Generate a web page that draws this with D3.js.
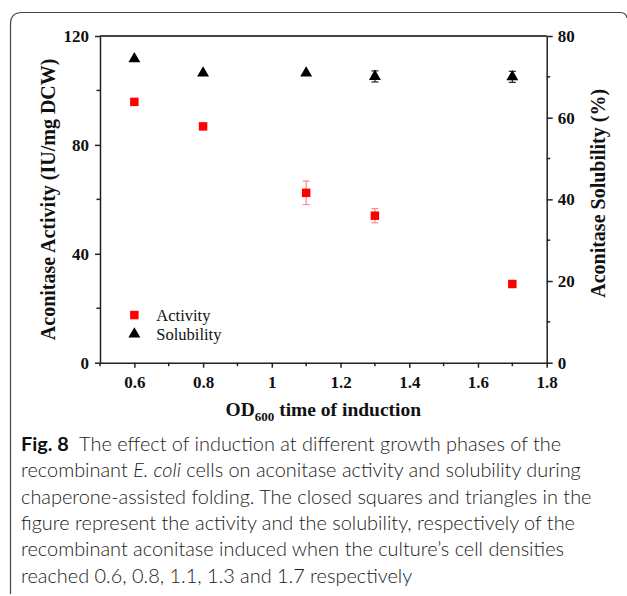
<!DOCTYPE html>
<html>
<head>
<meta charset="utf-8">
<script src="https://cdn.jsdelivr.net/npm/d3@7"></script>
<style>
  body { margin: 0; background: #fff; }
  svg { display: block; }
  .axis path, .axis line { stroke: #222; stroke-width: 1.5px; }
  .title { font-family: "Liberation Serif", "Times New Roman", serif; font-weight: bold; font-size: 20px; fill: #111; }
  .legend text { font-family: "Liberation Serif", "Times New Roman", serif; font-size: 16.5px; fill: #111; }
  .caption { font-family: Lato, "Noto Sans", sans-serif; font-weight: 300; font-size: 19px; fill: #1a1a1a; }
</style>
</head>
<body>
<svg id="chart"></svg>
<script>
// data
const od = [0.6, 0.8, 1.1, 1.3, 1.7];
const activity = [95.8, 86.8, 62.4, 54.0, 28.9];
const activityErr = [0, 0, 4.3, 2.6, 0];
const solubility = [74.4, 70.9, 70.9, 70.1, 70.0];
const solubilityErr = [0, 0, 0, 1.35, 1.35];
const xTicks = [0.6, 0.8, 1, 1.2, 1.4, 1.6, 1.8];
const leftTicks = [0, 40, 80, 120];
const rightTicks = [0, 20, 40, 60, 80];
const captionLines = [
  [{t: 'Fig. 8', b: true}, {t: '  The effect of induction at different growth phases of the'}],
  [{t: 'recombinant '}, {t: 'E. coli', i: true}, {t: ' cells on aconitase activity and solubility during'}],
  [{t: 'chaperone-assisted folding. The closed squares and triangles in the'}],
  [{t: 'figure represent the activity and the solubility, respectively of the'}],
  [{t: 'recombinant aconitase induced when the culture\u2019s cell densities'}],
  [{t: 'reached 0.6, 0.8, 1.1, 1.3 and 1.7 respectively'}]
];

const W = 627, H = 596;
const m = {left: 100, top: 36, right: 80.3, bottom: 233.3};
const pw = W - m.left - m.right, ph = H - m.top - m.bottom;

const svg = d3.select('#chart').attr('width', W).attr('height', H);

// figure frame (open at the right, as in the page crop)
svg.append('path')
  .attr('d', `M10.5,594 L10.5,24 Q10.5,12.5 22,12.5 L620,12.5 Q626,12.5 627,18`)
  .attr('fill', 'none').attr('stroke', '#444').attr('stroke-width', 1.2);

const g = svg.append('g').attr('transform', `translate(${m.left},${m.top})`);

const x = d3.scaleLinear().domain([0.5, 1.8]).range([0, pw]);
const yL = d3.scaleLinear().domain([0, 120]).range([ph, 0]);
const yR = d3.scaleLinear().domain([0, 80]).range([ph, 0]);

const styleTicks = sel => sel.selectAll('.tick text')
  .attr('font-family', '"Liberation Serif", "Times New Roman", serif')
  .attr('font-weight', 'bold').attr('font-size', 17).attr('fill', '#111');

// minor ticks
const minor = (sel, ticks, fn) => sel.selectAll(null).data(ticks).enter().append('line')
  .attr('stroke', '#222').attr('stroke-width', 1.5).each(function(d) { fn(d3.select(this), d); });

// top frame line
g.append('line').attr('x1', 0).attr('x2', pw).attr('y1', 0).attr('y2', 0).attr('stroke', '#444').attr('stroke-width', 1.8);

const xAxis = g.append('g').attr('class', 'axis').attr('transform', `translate(0,${ph})`)
  .call(d3.axisBottom(x).tickValues(xTicks).tickSize(5).tickSizeOuter(0).tickFormat(d3.format('')));
styleTicks(xAxis);
xAxis.selectAll('.tick text').attr('y', 10).attr('dy', '0.9em');
minor(xAxis, [0.5, 0.7, 0.9, 1.1, 1.3, 1.5, 1.7], (s, d) => s.attr('x1', x(d)).attr('x2', x(d)).attr('y1', 0).attr('y2', 3.5));

const lAxis = g.append('g').attr('class', 'axis')
  .call(d3.axisLeft(yL).tickValues(leftTicks).tickSize(5).tickSizeOuter(0));
styleTicks(lAxis);
lAxis.selectAll('.tick text').attr('x', -11);
minor(lAxis, [20, 60, 100], (s, d) => s.attr('x1', 0).attr('x2', -3.5).attr('y1', yL(d)).attr('y2', yL(d)));

const rAxis = g.append('g').attr('class', 'axis').attr('transform', `translate(${pw},0)`)
  .call(d3.axisRight(yR).tickValues(rightTicks).tickSize(6).tickSizeOuter(0));
styleTicks(rAxis);
rAxis.selectAll('.tick text').attr('x', 11);
minor(rAxis, [10, 30, 50, 70], (s, d) => s.attr('x1', 0).attr('x2', 3.5).attr('y1', yR(d)).attr('y2', yR(d)));

// error bars
const errBars = (vals, errs, y, color) => {
  const eg = g.append('g').attr('stroke', color).attr('stroke-width', 1.2).attr('fill', 'none');
  od.forEach((o, i) => {
    if (!errs[i]) return;
    const cx = x(o), y1 = y(vals[i] + errs[i]), y2 = y(vals[i] - errs[i]);
    eg.append('line').attr('x1', cx).attr('x2', cx).attr('y1', y1).attr('y2', y2);
    eg.append('line').attr('x1', cx - 3.5).attr('x2', cx + 3.5).attr('y1', y1).attr('y2', y1);
    eg.append('line').attr('x1', cx - 3.5).attr('x2', cx + 3.5).attr('y1', y2).attr('y2', y2);
  });
};
errBars(activity, activityErr, yL, '#ff8a8a');
errBars(solubility, solubilityErr, yR, '#222');

const sq = d3.symbol().type(d3.symbolSquare).size(72);
const tri = d3.symbol().type(d3.symbolTriangle).size(62);

g.selectAll('.act').data(od).enter().append('path')
  .attr('d', sq).attr('fill', '#ff0000')
  .attr('transform', (d, i) => `translate(${x(d)},${yL(activity[i])})`);
g.selectAll('.sol').data(od).enter().append('path')
  .attr('d', tri).attr('fill', '#000')
  .attr('transform', (d, i) => `translate(${x(d)},${yR(solubility[i])})`);

// legend
const lg = g.append('g').attr('class', 'legend').attr('transform', `translate(${x(0.6)},${yL(17.5)})`);
lg.append('path').attr('d', sq).attr('fill', '#ff0000');
lg.append('text').attr('x', 22).attr('y', 5.5).text('Activity');
lg.append('path').attr('d', tri).attr('fill', '#000').attr('transform', 'translate(0,19)');
lg.append('text').attr('x', 22).attr('y', 24.5).text('Solubility');

// axis titles
svg.append('text').attr('class', 'title').attr('text-anchor', 'middle')
  .attr('transform', `translate(55,${m.top + ph / 2}) rotate(-90)`)
  .text('Aconitase Activity (IU/mg DCW)');
svg.append('text').attr('class', 'title').attr('text-anchor', 'middle')
  .attr('transform', `translate(605,${m.top + ph / 2 - 6}) rotate(-90)`)
  .text('Aconitase Solubility (%)');
const xt = svg.append('text').attr('class', 'title').attr('text-anchor', 'middle')
  .style('font-size', '19.5px')
  .attr('x', m.left + pw / 2).attr('y', 416);
xt.append('tspan').text('OD');
xt.append('tspan').style('font-size', '13px').attr('dy', 5).text('600');
xt.append('tspan').attr('dy', -5).text(' time of induction');

// caption
const cap = svg.append('g');
captionLines.forEach((line, i) => {
  const t = cap.append('text').attr('class', 'caption').attr('x', 21).attr('y', 451 + i * 26.3)
    .attr('xml:space', 'preserve');
  line.forEach(p => {
    t.append('tspan').text(p.t)
      .attr('font-weight', p.b ? 700 : null)
      .attr('font-style', p.i ? 'italic' : null)
      .attr('fill', p.b ? '#111' : null);
  });
});
// fit caption size so the longest line ends near the reference's right edge (about x = 592)
const wMax = d3.max(cap.selectAll('text').nodes(), n => n.getComputedTextLength());
cap.selectAll('text').style('font-size', (19 * 571 / wMax) + 'px');
</script>
</body>
</html>
